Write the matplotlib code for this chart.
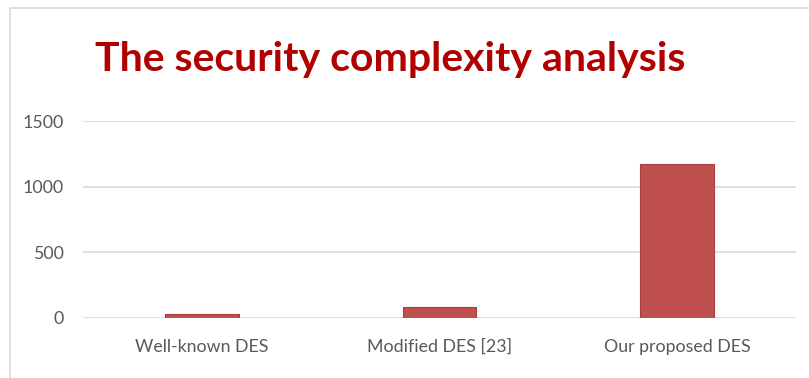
import matplotlib
matplotlib.use('Agg')
import matplotlib.pyplot as plt
from matplotlib.patches import Rectangle

categories = ['Well-known DES', 'Modified DES [23]', 'Our proposed DES']
values = [28, 81, 1171]
yticks = [0, 500, 1000, 1500]
title = 'The security complexity analysis'

plt.rcParams['font.family'] = ['Lato', 'DejaVu Sans']

fig = plt.figure(figsize=(8.09, 3.78), dpi=100)
W, H = 809, 378

# outer chart border (light gray, cut off at right/bottom)
fig.patches.append(Rectangle((10 / W, -0.1), 1.2, (H - 8) / H + 0.1,
                             transform=fig.transFigure, fill=False,
                             edgecolor='#d9d9d9', linewidth=1.2))

ax = fig.add_axes([83 / W, (H - 318) / H, (796 - 83) / W, (318 - 121) / H])
x = range(len(categories))
ax.bar(x, values, width=0.31, color='#C0504D', edgecolor='#A5403D', linewidth=0.8, zorder=3)

ax.set_xlim(-0.5, len(categories) - 0.5)
ax.set_ylim(0, 1500)
ax.set_yticks(yticks)
ax.set_xticks(list(x))
ax.set_xticklabels(categories)
ax.yaxis.grid(True, color='#d9d9d9', linewidth=1.2, zorder=0)
for s in ax.spines.values():
    s.set_visible(False)
ax.tick_params(axis='both', length=0, labelsize=12.8, labelcolor='#595959')
ax.tick_params(axis='x', pad=15)
ax.tick_params(axis='y', pad=14)

fig.text(390 / W, 1 - 59 / H, title, ha='center', va='center',
         fontsize=29.5, fontweight='bold', color='#B00000')

fig.savefig('out.png', dpi=100)
